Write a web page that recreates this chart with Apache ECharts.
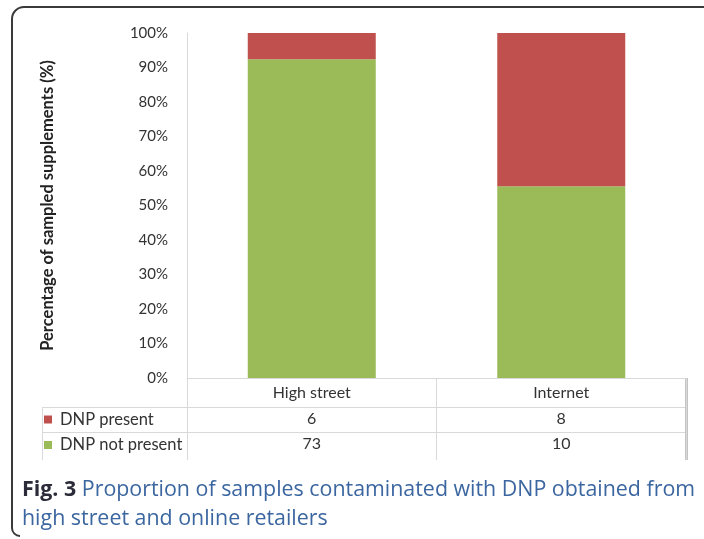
<!DOCTYPE html>
<html>
<head>
<meta charset="utf-8">
<script src="https://cdn.jsdelivr.net/npm/echarts@6/dist/echarts.min.js"></script>
<style>
html,body{margin:0;padding:0;background:#fff;}
#chart{width:704px;height:539px;}
</style>
</head>
<body>
<div id="chart"></div>
<script>
const categories = ['High street', 'Internet'];
const dnpPresent = [6, 8];
const dnpNotPresent = [73, 10];
const seriesNames = ['DNP present', 'DNP not present'];
const yTicks = [0, 10, 20, 30, 40, 50, 60, 70, 80, 90, 100];
const yTitle = 'Percentage of sampled supplements (%)';
const captionBold = 'Fig. 3';
const captionLine1 = ' Proportion of samples contaminated with DNP obtained from';
const captionLine2 = 'high street and online retailers';

const totals = categories.map((c, i) => dnpPresent[i] + dnpNotPresent[i]);
const pctPresent = dnpPresent.map((v, i) => v / totals[i] * 100);
const pctNot = dnpNotPresent.map((v, i) => v / totals[i] * 100);

const FONT = 'Lato';
const gridLine = '#d9d9d9';
const chart = echarts.init(document.getElementById('chart'), null, {renderer: 'canvas'});

const xBase = {
  type: 'category',
  data: categories,
  position: 'bottom',
  gridIndex: 0,
  axisLine: {show: false},
  axisTick: {show: false},
  splitLine: {show: false}
};

chart.setOption({
  backgroundColor: '#ffffff',
  animation: false,
  grid: {left: 187, right: 18, top: 33, bottom: 161, containLabel: false},
  legend: {
    orient: 'vertical',
    left: 44,
    top: 411,
    padding: 0,
    data: seriesNames,
    icon: 'rect',
    itemWidth: 8,
    itemHeight: 8,
    itemGap: 8.5,
    selectedMode: false,
    textStyle: {fontFamily: FONT, fontSize: 16.5, color: '#333', lineHeight: 17, padding: [0, 0, 0, 3]}
  },
  xAxis: [
    Object.assign({}, xBase, {
      axisLine: {show: true, lineStyle: {color: gridLine, width: 1}},
      axisTick: {show: true, length: 82, alignWithLabel: false, lineStyle: {color: gridLine, width: 1}},
      axisLabel: {fontFamily: FONT, fontSize: 16, color: '#333', margin: 7}
    }),
    Object.assign({}, xBase, {
      data: dnpPresent.map(String),
      offset: 29,
      axisLabel: {fontFamily: FONT, fontSize: 16, color: '#333', margin: 4}
    }),
    Object.assign({}, xBase, {
      data: dnpNotPresent.map(String),
      offset: 54,
      axisLabel: {fontFamily: FONT, fontSize: 16, color: '#333', margin: 4}
    })
  ],
  yAxis: {
    type: 'value',
    min: yTicks[0],
    max: yTicks[yTicks.length - 1],
    interval: yTicks[1] - yTicks[0],
    name: yTitle,
    nameLocation: 'middle',
    nameGap: 131,
    nameRotate: 90,
    nameTextStyle: {fontFamily: FONT, fontSize: 16.5, fontWeight: 'bold', color: '#222'},
    axisLine: {show: true, lineStyle: {color: gridLine, width: 1}},
    axisTick: {show: false},
    splitLine: {show: false},
    axisLabel: {fontFamily: FONT, fontSize: 15, color: '#333', margin: 19, formatter: '{value}%'}
  },
  series: [
    {
      name: seriesNames[1], type: 'bar', stack: 'total', xAxisIndex: 0,
      data: pctNot, barWidth: 128,
      itemStyle: {color: '#9BBB59'}
    },
    {
      name: seriesNames[0], type: 'bar', stack: 'total', xAxisIndex: 0,
      data: pctPresent, barWidth: 128,
      itemStyle: {color: '#C0504D'}
    }
  ],
  graphic: [
    // table lines
    {type: 'line', silent: true, shape: {x1: 42, y1: 407.5, x2: 686, y2: 407.5}, style: {stroke: gridLine, lineWidth: 1}},
    {type: 'line', silent: true, shape: {x1: 42, y1: 432.5, x2: 686, y2: 432.5}, style: {stroke: gridLine, lineWidth: 1}},
    {type: 'line', silent: true, shape: {x1: 42.5, y1: 407, x2: 42.5, y2: 460}, style: {stroke: gridLine, lineWidth: 1}},
    {type: 'line', silent: true, shape: {x1: 686.5, y1: 378, x2: 686.5, y2: 460}, style: {stroke: '#c4c4c4', lineWidth: 3}},
    // frame
    {type: 'line', silent: true, shape: {x1: 24, y1: 7, x2: 704, y2: 7}, style: {stroke: '#3a3a3a', lineWidth: 2}},
    {type: 'arc', silent: true, shape: {cx: 24, cy: 19, r: 12, startAngle: Math.PI, endAngle: Math.PI * 1.5, clockwise: true}, style: {stroke: '#3a3a3a', lineWidth: 2, fill: null}},
    {type: 'line', silent: true, shape: {x1: 12, y1: 19, x2: 12, y2: 528}, style: {stroke: '#3a3a3a', lineWidth: 2}},
    {type: 'arc', silent: true, shape: {cx: 20, cy: 528, r: 8, startAngle: Math.PI * 0.5, endAngle: Math.PI, clockwise: true}, style: {stroke: '#3a3a3a', lineWidth: 2, fill: null}},
    // caption
    {
      type: 'text', left: 22, top: 479, silent: true,
      style: {
        text: '{b|' + captionBold + '}{n|' + captionLine1 + '}\n{n|' + captionLine2 + '}',
        rich: {
          b: {fontFamily: 'Open Sans', fontSize: 21.4, fontWeight: 'bold', fill: '#2b2b3a', lineHeight: 29},
          n: {fontFamily: 'Open Sans', fontSize: 21.4, fill: '#3b66a0', lineHeight: 29}
        }
      }
    }
  ]
});
</script>
</body>
</html>
